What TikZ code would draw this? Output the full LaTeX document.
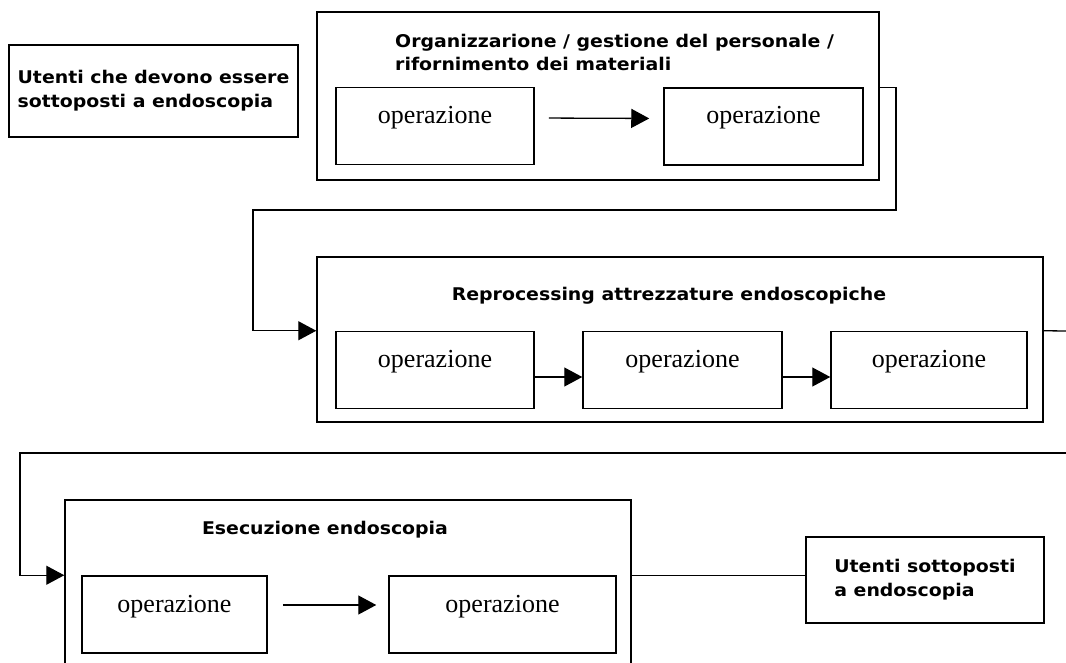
\documentclass[tikz,border=0pt]{standalone}
\usepackage{fontspec}
\usetikzlibrary{arrows.meta}
\newfontfamily\labfont[FakeStretch=1.08]{DejaVu Sans}
\newfontfamily\opfont{Liberation Serif}
\tikzset{
	flow/.style={line width=1.3pt, -{Triangle[length=18pt,width=19pt]}},
	wire/.style={line width=1.3pt},
	group/.style={draw, line width=1.5pt, inner sep=0pt},
	opbox/.style={draw, line width=1.5pt, inner xsep=0pt, inner ysep=0pt,
		minimum height=77pt, text height=12pt, text depth=17pt,
		font=\opfont\fontsize{26}{26}\selectfont},
	users/.style={draw, line width=1.5pt, align=left, inner sep=0pt,
		font=\labfont\bfseries\fontsize{17.5}{24}\selectfont},
	title/.style={align=left, inner sep=0pt,
		font=\labfont\bfseries\fontsize{17.5}{23}\selectfont}
}
\begin{document}
\begin{tikzpicture}[x=1pt,y=-1pt]
				\useasboundingbox (0,0) rectangle (1066,663);
				\clip (0,0) rectangle (1066,663);
				% users in
				\node[users, minimum width=289pt, minimum height=92pt] (start) at (153.5,91)
					{Utenti che devono essere\\sottoposti a endoscopia};
				% organisation
				\node[group, minimum width=562pt, minimum height=168pt] (org) at (598,96) {};
				\node[title, anchor=west] (orgT) at (395,52)
					{Organizzarione / gestione del personale /\\rifornimento dei materiali};
				\node[opbox, minimum width=198pt] (o1) at (435,126) {operazione};
				\node[opbox, minimum width=199pt] (o2) at (763.5,126.5) {operazione};
				\draw[flow, shorten <=14pt, shorten >=14pt] ([yshift=8pt]o1.east) -- ([yshift=8pt]o2.west);
				% reprocessing
				\node[group, minimum width=726pt, minimum height=165pt] (rep) at (680,339.5) {};
				\node[title] (repT) at (669,296) {Reprocessing attrezzature endoscopiche};
				\node[opbox, minimum width=198pt] (r1) at (435,370) {operazione};
				\node[opbox, minimum width=199pt] (r2) at (682.5,370) {operazione};
				\node[opbox, minimum width=196pt] (r3) at (929,370) {operazione};
				\draw[flow] ([yshift=-7pt]r1.east) -- ([yshift=-7pt]r2.west);
				\draw[flow] ([yshift=-7pt]r2.east) -- ([yshift=-7pt]r3.west);
				% execution
				\node[group, minimum width=566pt, minimum height=200pt] (exe) at (348,600) {};
				\node[title] (exeT) at (325,530) {Esecuzione endoscopia};
				\node[opbox, minimum width=185pt] (e1) at (174.5,614.5) {operazione};
				\node[opbox, minimum width=227pt] (e2) at (502.5,614.5) {operazione};
				\draw[flow, shorten <=15pt, shorten >=12pt] ([yshift=9.5pt]e1.east) -- ([yshift=9.5pt]e2.west);
				% users out
				\node[users, minimum width=238pt, minimum height=86pt] (finish) at (925,580)
					{Utenti sottoposti\\a endoscopia};
				%links
				\coordinate (turnA) at (896,210);
				\coordinate (turnB) at (253,210);
				\coordinate (edgeR) at (1066,331);
				\coordinate (wrapR) at (1066,453);
				\coordinate (wrapL) at (20,453);
				\draw[flow] (org.east |- o2.north) -| (turnA) -- (turnB) |- (rep.west |- r1.north);
				\draw[wire] (rep.east |- r3.north) -- (edgeR);
				\draw[flow] (wrapR) -- (wrapL) |- (exe.west |- e1.north);
				\draw[wire] (exe.east |- e1.north) -- (finish.west |- e1.north);
			\end{tikzpicture}
\end{document}
